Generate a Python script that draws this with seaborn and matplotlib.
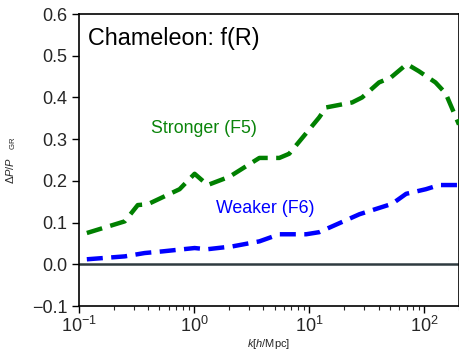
import numpy as np
import pandas as pd
import matplotlib
matplotlib.use("Agg")
import matplotlib.pyplot as plt
import seaborn as sns

# Data
k_f5 = [0.117, 0.25, 0.324, 0.396, 0.748, 1.01, 1.31, 2.03, 3.69, 5.5, 6.7,
        12.2, 14.0, 23.6, 28.8, 40.4, 51.3, 70.5, 89.5, 125, 153, 200]
dp_f5 = [0.075, 0.103, 0.142, 0.144, 0.180, 0.217, 0.190, 0.210, 0.255, 0.255, 0.265,
         0.352, 0.376, 0.388, 0.400, 0.436, 0.448, 0.480, 0.463, 0.436, 0.410, 0.335]
k_f6 = [0.117, 0.25, 0.372, 0.533, 1.01, 1.29, 2.16, 3.69, 5.5, 9.4, 12.2,
        27.3, 52.5, 69.5, 103, 135, 200]
dp_f6 = [0.012, 0.019, 0.027, 0.031, 0.039, 0.036, 0.043, 0.055, 0.072, 0.072, 0.077,
         0.120, 0.145, 0.169, 0.180, 0.190, 0.190]
y_ticks = [-0.1, 0.0, 0.1, 0.2, 0.3, 0.4, 0.5, 0.6]

sns.set_style("ticks")
plt.rcParams['font.family'] = ['Liberation Sans', 'DejaVu Sans']
plt.rcParams['mathtext.fontset'] = 'custom'
plt.rcParams['mathtext.rm'] = 'Liberation Sans'
plt.rcParams['mathtext.it'] = 'Liberation Sans:italic'
plt.rcParams['mathtext.bf'] = 'Liberation Sans:bold'

df5 = pd.DataFrame({'k': k_f5, 'dp': dp_f5})
df6 = pd.DataFrame({'k': k_f6, 'dp': dp_f6})

fig = plt.figure(figsize=(4.6, 3.53), dpi=100)
ax = fig.add_axes([0.1717, 0.1331, 0.8261, 0.8272])

ax.axhline(0.0, color='#2f3b40', lw=1.8, zorder=1)
sns.lineplot(data=df5, x='k', y='dp', ax=ax, color='#008000', lw=3.2,
             linestyle=(0, (3.6, 1.9)), estimator=None, sort=False, zorder=3)
sns.lineplot(data=df6, x='k', y='dp', ax=ax, color='#0000ff', lw=3.2,
             linestyle=(0, (3.6, 1.9)), estimator=None, sort=False, zorder=3)

ax.set_xscale('log')
ax.set_xlim(0.1, 200)
ax.set_ylim(-0.1, 0.6)
ax.set_yticks(y_ticks)
ax.set_yticklabels(['\u22120.1', '0.0', '0.1', '0.2', '0.3', '0.4', '0.5', '0.6'])

for s in ax.spines.values():
    s.set_linewidth(1.2)
    s.set_color('black')
    s.set_visible(True)

ax.tick_params(axis='both', which='major', labelsize=13, direction='out',
               length=5, width=1.0, color='black')
ax.tick_params(axis='x', which='major', pad=2)
ax.tick_params(axis='x', which='minor', direction='out', length=3, width=0.8)
ax.tick_params(axis='y', which='minor', left=False)

ax.set_xlabel(r'$k$[$h$/Mpc]', fontsize=8, labelpad=1)
ax.set_ylabel(r'$\Delta P/P$   $_{\rm GR}$', fontsize=8, labelpad=10)

ax.text(0.025, 0.915, 'Chameleon: f(R)', transform=ax.transAxes, fontsize=16.8,
        color='black', va='center', ha='left')
ax.text(0.19, 0.607, 'Stronger (F5)', transform=ax.transAxes, fontsize=12.8,
        color='#0a840a', va='center', ha='left')
ax.text(0.36, 0.335, 'Weaker (F6)', transform=ax.transAxes, fontsize=12.8,
        color='#0000ff', va='center', ha='left')

fig.savefig('out.png', dpi=100)
